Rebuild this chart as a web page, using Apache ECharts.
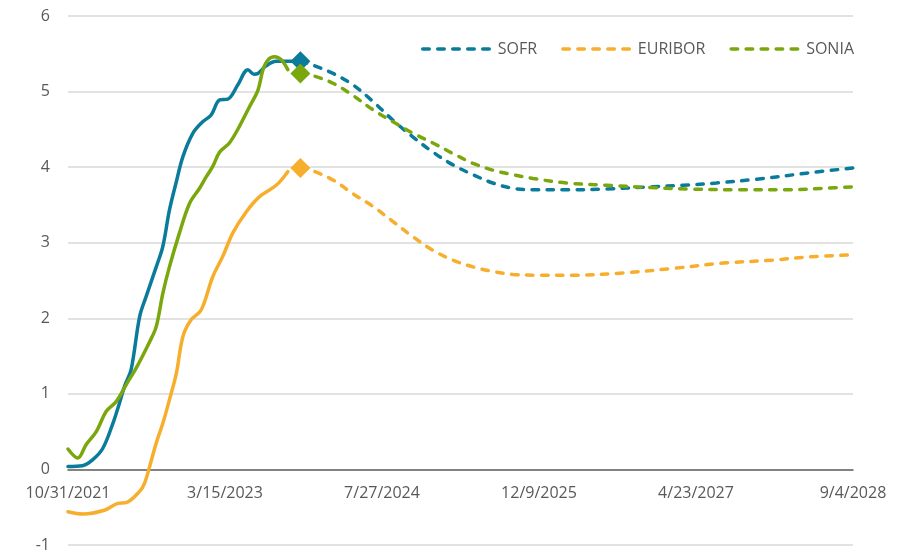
<!DOCTYPE html>
<html>
<head>
<meta charset="utf-8">
<script src="https://cdn.jsdelivr.net/npm/echarts@6/dist/echarts.min.js"></script>
<style>
html,body{margin:0;padding:0;background:#fff;}
#chart{width:911px;height:555px;}
</style>
</head>
<body>
<div id="chart"></div>
<script>
// x values are days since 10/31/2021
const startDate = [2021, 9, 31];
const xTickDays = [0, 500, 1000, 1500, 2000, 2500];
const yTicks = [-1, 0, 1, 2, 3, 4, 5, 6];
const seriesNames = ['SOFR', 'EURIBOR', 'SONIA'];

const sofrActual = [[0,0.04],[46,0.05],[79,0.13],[111,0.28],[143,0.61],[164,0.88],[180,1.10],[201,1.32],[228,2.02],[249,2.29],[281,2.68],[302,2.95],[323,3.43],[344,3.79],[366,4.14],[398,4.45],[429,4.60],[456,4.69],[483,4.89],[509,4.90],[541,5.09],[573,5.29],[592,5.23],[605,5.24],[631,5.34],[663,5.40],[706,5.40],[740,5.40]];
const sofrForecast = [[740,5.40],[780,5.35],[844,5.24],[907,5.09],[971,4.87],[1035,4.62],[1098,4.40],[1162,4.20],[1226,4.03],[1290,3.90],[1353,3.79],[1417,3.72],[1481,3.70],[1587,3.70],[1715,3.71],[1853,3.74],[1959,3.76],[2065,3.79],[2192,3.84],[2352,3.92],[2500,3.99]];

const euriborActual = [[0,-0.56],[47,-0.59],[116,-0.54],[159,-0.45],[185,-0.44],[228,-0.29],[244,-0.18],[260,0.04],[281,0.35],[302,0.61],[323,0.92],[345,1.27],[366,1.76],[392,1.98],[424,2.11],[461,2.55],[493,2.82],[525,3.13],[568,3.41],[610,3.61],[663,3.76],[700,3.94]];
const euriborForecast = [[740,3.99],[780,3.95],[844,3.83],[907,3.65],[971,3.48],[1035,3.28],[1098,3.08],[1162,2.90],[1226,2.77],[1290,2.68],[1353,2.62],[1417,2.58],[1502,2.57],[1608,2.57],[1767,2.60],[1927,2.66],[2086,2.73],[2245,2.77],[2352,2.81],[2500,2.84]];

const soniaActual = [[0,0.27],[31,0.15],[58,0.33],[90,0.50],[122,0.77],[154,0.90],[185,1.12],[217,1.34],[260,1.69],[281,1.89],[302,2.33],[323,2.68],[355,3.13],[387,3.52],[419,3.72],[440,3.87],[461,4.01],[483,4.20],[514,4.32],[546,4.54],[578,4.80],[605,5.02],[621,5.29],[637,5.42],[658,5.46],[679,5.42],[700,5.29]];
const soniaForecast = [[740,5.24],[780,5.21],[844,5.11],[907,4.95],[971,4.76],[1035,4.60],[1098,4.45],[1162,4.32],[1226,4.18],[1290,4.05],[1353,3.96],[1417,3.90],[1481,3.85],[1587,3.79],[1715,3.76],[1853,3.73],[1981,3.71],[2140,3.70],[2299,3.70],[2405,3.72],[2500,3.74]];

const colors = {SOFR:'#0b7b9b', EURIBOR:'#f7ae2c', SONIA:'#7aa70d'};
const fontFamily = '"Open Sans", "Noto Sans", sans-serif';

function dayLabel(d){
  const t = new Date(Date.UTC(startDate[0], startDate[1], startDate[2]) + d*86400000);
  return (t.getUTCMonth()+1) + '/' + t.getUTCDate() + '/' + t.getUTCFullYear();
}

const actuals = {SOFR: sofrActual, EURIBOR: euriborActual, SONIA: soniaActual};
const forecasts = {SOFR: sofrForecast, EURIBOR: euriborForecast, SONIA: soniaForecast};

const series = [];
seriesNames.forEach(function(n){
  series.push({
    name: n + ' actual', type:'line', data: actuals[n], smooth:0.35, symbol:'none',
    lineStyle:{color:colors[n], width:3.5, cap:'round', join:'round'}, z:3
  });
  series.push({
    name: n, type:'line', data: forecasts[n], smooth:0.35, symbol:'none',
    itemStyle:{color:colors[n]},
    lineStyle:{color:colors[n], width:3.5, type:[6.5,8.5], cap:'round'}, z:3
  });
  series.push({
    name: n + ' marker', type:'scatter', data:[forecasts[n][0]], symbol:'diamond', symbolSize:20,
    itemStyle:{color:colors[n], opacity:1}, z:4
  });
});

// layout
const H = 555, gridTop = 16, gridBottom = 10;
const yMin = yTicks[0], yMax = yTicks[yTicks.length-1];
const zeroOffset = -(0 - yMin) * (H - gridTop - gridBottom) / (yMax - yMin);
const splitColors = yTicks.map(function(v){ return v === 0 ? 'rgba(0,0,0,0)' : '#d9d9d9'; });

const chart = echarts.init(document.getElementById('chart'));
chart.setOption({
  animation:false,
  backgroundColor:'#ffffff',
  grid:{left:68, right:58, top:gridTop, bottom:gridBottom, containLabel:false, outerBoundsMode:'none'},
  legend:{
    show:true,
    data: seriesNames,
    right:52, top:36, itemWidth:70, itemHeight:14, itemGap:24,
    textStyle:{color:'#595959', fontSize:16, fontFamily:fontFamily},
    itemStyle:{opacity:0},
    lineStyle:{type:[6.5,8.5], width:3.5, cap:'round'}
  },
  xAxis:{
    type:'value', min:xTickDays[0], max:xTickDays[xTickDays.length-1], interval:xTickDays[1]-xTickDays[0],
    position:'bottom', offset: zeroOffset,
    axisLine:{onZero:false, lineStyle:{color:'#595959', width:1.5}},
    axisTick:{show:false},
    splitLine:{show:false},
    axisLabel:{formatter:dayLabel, color:'#595959', fontSize:16, fontFamily:fontFamily, margin:16}
  },
  yAxis:{
    type:'value', min:yMin, max:yMax, interval:1,
    axisLine:{show:false}, axisTick:{show:false},
    splitLine:{lineStyle:{color:splitColors, width:1.5}},
    axisLabel:{color:'#595959', fontSize:16, fontFamily:fontFamily, margin:18}
  },
  series: series
});
</script>
</body>
</html>
